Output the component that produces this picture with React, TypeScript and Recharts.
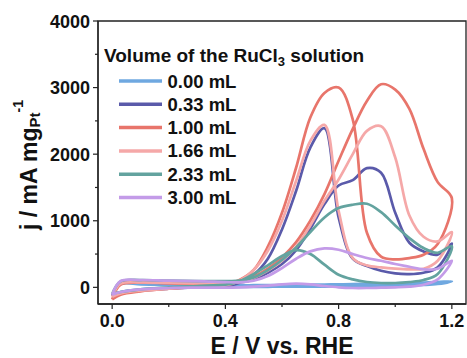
import { LineChart, Line, XAxis, YAxis, Legend, ReferenceArea, Label } from "recharts";

// potential grid (V vs. RHE): anodic sweep 0 -> 1.2, cathodic sweep back to 0
const FWD_E = [0, 0.03, 0.1, 0.2, 0.3, 0.4, 0.45, 0.5, 0.55, 0.6, 0.65, 0.7, 0.75, 0.8, 0.85, 0.9, 0.95, 1.0, 1.05, 1.1, 1.15, 1.2];
const BWD_E = [1.15, 1.1, 1.05, 1.0, 0.95, 0.9, 0.85, 0.8, 0.75, 0.7, 0.65, 0.6, 0.55, 0.5, 0.45, 0.4, 0.3, 0.2, 0.1, 0.03, 0];

// current density j (mA mg_Pt^-1)
const fwd000 = [-120, 50, 45, 35, 30, 30, 30, 32, 34, 36, 38, 40, 42, 45, 48, 52, 56, 60, 65, 72, 80, 90];
const bwd000 = [50, 35, 28, 24, 20, 18, 16, 14, 12, 10, 10, 10, 8, 6, 5, 5, 0, -10, -30, -70, -120];

const fwd033 = [-130, 60, 75, 65, 60, 60, 75, 120, 220, 350, 560, 880, 1250, 1530, 1610, 1790, 1720, 1120, 670, 540, 490, 660];
const bwd033 = [300, 220, 200, 210, 250, 320, 430, 1050, 2390, 2100, 1450, 870, 430, 190, 70, 20, 0, -20, -50, -90, -130];

const fwd100 = [-180, 40, 70, 60, 55, 60, 80, 160, 280, 450, 680, 1000, 1400, 1900, 2380, 2800, 3050, 2970, 2680, 2080, 1580, 1340];
const bwd100 = [650, 490, 440, 420, 460, 820, 2520, 3000, 2920, 2550, 1800, 1120, 610, 260, 110, 40, 10, -20, -60, -110, -180];

const fwd166 = [-140, 55, 75, 65, 60, 60, 80, 140, 250, 400, 610, 930, 1300, 1620, 2000, 2350, 2420, 1950, 1080, 760, 690, 830];
const bwd166 = [400, 280, 270, 280, 300, 330, 440, 1150, 2440, 2200, 1600, 1000, 550, 260, 100, 30, 10, -20, -50, -90, -140];

const fwd233 = [-100, 90, 110, 100, 95, 95, 100, 150, 260, 410, 600, 830, 1050, 1190, 1240, 1255, 1130, 930, 740, 590, 520, 620];
const bwd233 = [200, 110, 80, 65, 65, 80, 120, 190, 340, 500, 560, 470, 330, 200, 90, 40, 20, 0, -30, -70, -100];

const fwd300 = [-110, 95, 110, 100, 95, 80, 75, 100, 170, 290, 430, 540, 585, 565, 500, 440, 400, 350, 310, 270, 280, 400];
const bwd300 = [120, 40, 10, 0, -5, -10, -10, 0, 20, 45, 55, 45, 25, 10, 0, -5, -5, -10, -30, -70, -110];

const SERIES = [
  { name: "0.00 mL", color: "#6FA8E0", fwd: fwd000, bwd: bwd000 },
  { name: "0.33 mL", color: "#5A5AAA", fwd: fwd033, bwd: bwd033 },
  { name: "1.00 mL", color: "#E8756B", fwd: fwd100, bwd: bwd100 },
  { name: "1.66 mL", color: "#F5A8A8", fwd: fwd166, bwd: bwd166 },
  { name: "2.33 mL", color: "#63A39F", fwd: fwd233, bwd: bwd233 },
  { name: "3.00 mL", color: "#C39BE8", fwd: fwd300, bwd: bwd300 },
];

const X_TICKS = [0, 0.2, 0.4, 0.6, 0.8, 1.0, 1.2];
const Y_TICKS = [0, 500, 1000, 1500, 2000, 2500, 3000, 3500, 4000];

const FONT = "'Liberation Sans', Arial, sans-serif";
const INK = "#222";

const loop = (fwd: number[], bwd: number[]) => [
  ...FWD_E.map((E, i) => ({ E, j: fwd[i] })),
  ...BWD_E.map((E, i) => ({ E, j: bwd[i] })),
];

// centripetal catmull-rom, works on closed CV loops and doesn't overshoot like "natural"
const catmullRom = (context: any) => {
  let pts: number[][] = [];
  return {
    areaStart() {},
    areaEnd() {},
    lineStart() {
      pts = [];
    },
    point(x: number, y: number) {
      pts.push([+x, +y]);
    },
    lineEnd() {
      const n = pts.length;
      if (!n) return;
      context.moveTo(pts[0][0], pts[0][1]);
      for (let i = 0; i < n - 1; i++) {
        const [x0, y0] = i > 0 ? pts[i - 1] : pts[i];
        const [x1, y1] = pts[i];
        const [x2, y2] = pts[i + 1];
        const [x3, y3] = i + 2 < n ? pts[i + 2] : pts[i + 1];
        const l01 = Math.hypot(x1 - x0, y1 - y0);
        const l12 = Math.hypot(x2 - x1, y2 - y1);
        const l23 = Math.hypot(x3 - x2, y3 - y2);
        const l01a = Math.sqrt(l01), l12a = Math.sqrt(l12), l23a = Math.sqrt(l23);
        let c1x = x1, c1y = y1, c2x = x2, c2y = y2;
        if (l01a > 1e-6) {
          const a = 2 * l01 + 3 * l01a * l12a + l12;
          const m = 3 * l01a * (l01a + l12a);
          c1x = (x1 * a - x0 * l12 + x2 * l01) / m;
          c1y = (y1 * a - y0 * l12 + y2 * l01) / m;
        }
        if (l23a > 1e-6) {
          const b = 2 * l23 + 3 * l23a * l12a + l12;
          const m = 3 * l23a * (l23a + l12a);
          c2x = (x2 * b + x1 * l23 - x3 * l12) / m;
          c2y = (y2 * b + y1 * l23 - y3 * l12) / m;
        }
        context.bezierCurveTo(c1x, c1y, c2x, c2y, x2, y2);
      }
    },
  };
};

const XTick = ({ x, y, payload }: any) => {
  const major = Math.round(payload.value * 10) % 4 === 0;
  return (
    <g>
      <line x1={x} x2={x} y1={y} y2={y + (major ? 5 : 3)} stroke={INK} strokeWidth={1.2} />
      {major && (
        <text x={x} y={y + 23} textAnchor="middle" fontFamily={FONT} fontWeight="bold" fontSize={18} fill="#111">
          {payload.value.toFixed(1)}
        </text>
      )}
    </g>
  );
};

const YTick = ({ x, y, payload }: any) => {
  const major = payload.value % 1000 === 0;
  return (
    <g>
      <line x1={x - (major ? 5 : 3)} x2={x} y1={y} y2={y} stroke={INK} strokeWidth={1.2} />
      {major && (
        <text x={x - 8} y={y + 6.5} textAnchor="end" fontFamily={FONT} fontWeight="bold" fontSize={18} fill="#111">
          {payload.value}
        </text>
      )}
    </g>
  );
};

const renderLegend = () => (
  <svg width={440} height={215} style={{ display: "block" }}>
    <text x={104} y={61.5} fontFamily={FONT} fontWeight="bold" fontSize={19} fill="#111">
      Volume of the RuCl
      <tspan fontSize={13} dy={4}>3</tspan>
      <tspan dy={-4}> solution</tspan>
    </text>
    {SERIES.map((s, i) => {
      const cy = 81 + i * 23.3;
      return (
        <g key={s.name}>
          <line x1={119} x2={162} y1={cy} y2={cy} stroke={s.color} strokeWidth={3.5} />
          <text x={167.5} y={cy + 6.5} fontFamily={FONT} fontWeight="bold" fontSize={18.5} fill="#111">
            {s.name}
          </text>
        </g>
      );
    })}
  </svg>
);

export default function App() {
  return (
    <div style={{ position: "absolute", left: 0, top: 0 }}>
      <LineChart width={467} height={358} margin={{ top: 21, right: 1, bottom: 0, left: 0 }}>
        <ReferenceArea x1={-0.05} x2={1.25} y1={-250} y2={4000} fill="none" stroke={INK} strokeWidth={1.3} ifOverflow="visible" />
        <XAxis
          type="number"
          dataKey="E"
          domain={[-0.05, 1.25]}
          ticks={X_TICKS}
          interval={0}
          allowDataOverflow
          height={54}
          tickSize={0}
          tickMargin={0}
          tickLine={false}
          axisLine={{ stroke: INK, strokeWidth: 1.3 }}
          tick={<XTick />}
        >
          <Label
            content={({ viewBox }: any) => (
              <text x={viewBox.x + viewBox.width / 2} y={354} textAnchor="middle" fontFamily={FONT} fontWeight="bold" fontSize={23} fill="#111">
                E / V vs. RHE
              </text>
            )}
          />
        </XAxis>
        <YAxis
          type="number"
          dataKey="j"
          domain={[-250, 4000]}
          ticks={Y_TICKS}
          interval={0}
          allowDataOverflow
          width={98}
          tickSize={0}
          tickMargin={0}
          tickLine={false}
          axisLine={{ stroke: INK, strokeWidth: 1.3 }}
          tick={<YTick />}
        >
          <Label
            content={() => (
              <text transform="translate(37,165) rotate(-90)" x={0} y={0} textAnchor="middle" fontFamily={FONT} fontWeight="bold" fontSize={23} fill="#111">
                j / mA mg
                <tspan fontSize={15} dy={3}>Pt</tspan>
                <tspan fontSize={14} dy={-17}>-1</tspan>
              </text>
            )}
          />
        </YAxis>
        {SERIES.map((s) => (
          <Line
            key={s.name}
            data={loop(s.fwd, s.bwd)}
            dataKey="j"
            name={s.name}
            type={catmullRom as any}
            stroke={s.color}
            strokeWidth={2.7}
            dot={false}
            activeDot={false}
            isAnimationActive={false}
          />
        ))}
        <Legend
          layout="vertical"
          align="center"
          verticalAlign="middle"
          content={renderLegend}
          wrapperStyle={{ left: 0, top: 0, width: 440, height: 215 }}
        />
      </LineChart>
    </div>
  );
}
